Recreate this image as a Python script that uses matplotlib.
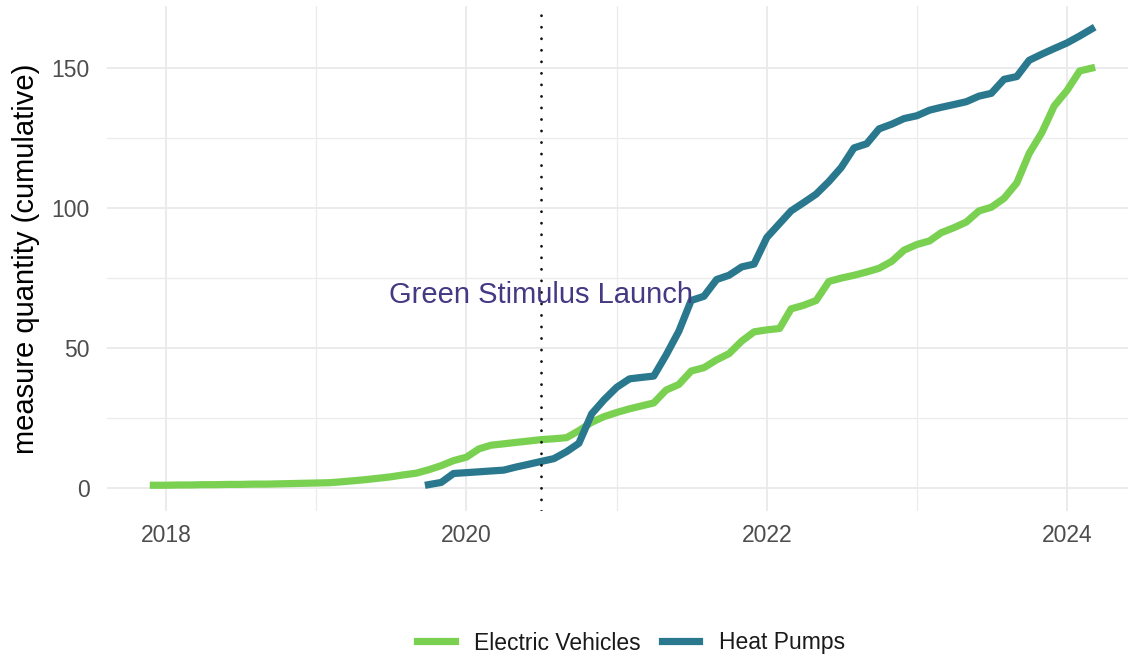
import numpy as np
import pandas as pd
import matplotlib
matplotlib.use('Agg')
import matplotlib.pyplot as plt
import matplotlib.dates as mdates

plt.rcParams['font.family'] = ['Liberation Sans', 'DejaVu Sans']

# monthly cumulative counts
ev_start = '2017-12-01'
ev_values = [1.0,
             1.0, 1.1, 1.1, 1.2, 1.2, 1.3, 1.3, 1.4, 1.4, 1.5, 1.6, 1.7,          # 2018
             1.8, 1.9, 2.2, 2.6, 3.0, 3.5, 4.0, 4.7, 5.3, 6.5, 8.0, 9.8,          # 2019
             11.0, 14.0, 15.3, 15.8, 16.3, 16.8, 17.3, 17.6, 18.0, 20.5, 23.5, 25.5,  # 2020
             27.0, 28.3, 29.3, 30.4, 35.0, 37.0, 41.8, 43.0, 45.8, 48.0, 52.5, 55.8,  # 2021
             56.5, 57.0, 64.0, 65.3, 67.0, 73.8, 75.0, 76.0, 77.2, 78.5, 81.0, 85.0,  # 2022
             87.0, 88.3, 91.2, 93.0, 95.0, 99.0, 100.3, 103.5, 109.0, 119.5, 127.0, 136.5,  # 2023
             142.0, 149.0, 150.0]                                                   # 2024

hp_start = '2019-10-01'
hp_values = [1.2, 2.0, 5.2,                                                          # 2019
             5.5, 5.8, 6.1, 6.4, 7.5, 8.5, 9.5, 10.5, 13.0, 16.0, 26.5, 31.5,     # 2020
             36.0, 39.0, 39.5, 40.0, 47.5, 56.0, 67.0, 68.5, 74.5, 76.0, 79.0, 80.0,  # 2021
             89.5, 94.5, 99.0, 102.0, 105.0, 109.5, 114.5, 121.5, 123.0, 128.3, 130.0, 132.0,  # 2022
             133.0, 135.0, 136.0, 137.0, 138.0, 140.0, 141.0, 146.0, 147.0, 152.8, 155.0, 157.0,  # 2023
             159.0, 161.5, 164.0]                                                   # 2024

series_names = ['Electric Vehicles', 'Heat Pumps']
series_colors = ['#7AD151', '#2A788E']
launch_date = '2020-07-01'
launch_label = 'Green Stimulus Launch'
launch_label_y = 69

ev_dates = pd.date_range(ev_start, periods=len(ev_values), freq='MS')
hp_dates = pd.date_range(hp_start, periods=len(hp_values), freq='MS')

W, H = 1128, 656
fig = plt.figure(figsize=(W / 100, H / 100), dpi=100)
ax = fig.add_axes([106.5 / W, 145 / H, 1032 / W, 505 / H])

grid_col = '#ebebeb'
for yr in [2018, 2020, 2022, 2024]:
    ax.axvline(pd.Timestamp(f'{yr}-01-01'), color=grid_col, lw=1.4, zorder=0)
for yr in [2019, 2021, 2023]:
    ax.axvline(pd.Timestamp(f'{yr}-01-01'), color=grid_col, lw=0.9, zorder=0)
for v in [0, 50, 100, 150]:
    ax.axhline(v, color=grid_col, lw=1.4, zorder=0)
for v in [25, 75, 125]:
    ax.axhline(v, color=grid_col, lw=0.9, zorder=0)

ax.plot(ev_dates, ev_values, color=series_colors[0], lw=5.2,
        solid_joinstyle='round', label=series_names[0], zorder=3)
ax.plot(hp_dates, hp_values, color=series_colors[1], lw=5.2,
        solid_joinstyle='round', label=series_names[1], zorder=3)

ax.axvline(pd.Timestamp(launch_date), color='#111111', lw=2.0,
           linestyle=(0, (0.05, 4.1)), dash_capstyle='round', zorder=4)
ax.text(pd.Timestamp(launch_date), launch_label_y, launch_label,
        color='#443983', fontsize=21, ha='center', va='center', zorder=5)

ax.set_xlim(pd.Timestamp('2017-08-09'), pd.Timestamp('2024-06-23'))
ax.set_ylim(-8.2, 172.2)
ax.set_xticks([pd.Timestamp(f'{yr}-01-01') for yr in [2018, 2020, 2022, 2024]])
ax.xaxis.set_major_formatter(mdates.DateFormatter('%Y'))
ax.set_yticks([0, 50, 100, 150])
ax.tick_params(axis='both', length=0, labelsize=16.5, labelcolor='#4d4d4d')
ax.tick_params(axis='x', pad=9)
ax.tick_params(axis='y', pad=12)
for s in ax.spines.values():
    s.set_visible(False)
ax.set_ylabel('measure quantity (cumulative)', fontsize=21, color='black', labelpad=8)

leg = fig.legend(loc='center', bbox_to_anchor=(631 / W, 13 / H), ncol=2, frameon=False,
                 fontsize=16.5, handlelength=1.65, handletextpad=0.85, columnspacing=0.9)
for t in leg.get_texts():
    t.set_color('#1a1a1a')

fig.savefig('out.png', dpi=100)
